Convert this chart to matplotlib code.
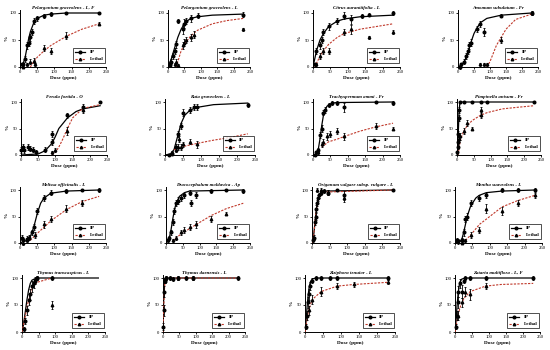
import matplotlib
matplotlib.use("Agg")
import matplotlib.pyplot as plt
from matplotlib.lines import Line2D

plt.rcParams['font.family'] = ['Liberation Serif', 'DejaVu Serif']
plt.rcParams['font.size'] = 3.6

titles = [
    "Pelargonium graveolens - L, F", "Pelargonium graveolens - L",
    "Citrus aurantiifolia - L", "Amomum subulatum - Fr",
    "Ferula foetida - O", "Ruta graveolens - L",
    "Trachyspermum ammi - Fr", "Pimpinella anisum - Fr",
    "Melissa officinalis - L", "Dracocephalum moldavica - Ap",
    "Origanum vulgare subsp. vulgare - L", "Mentha suaveolens - L",
    "Thymus transcaspicus - L", "Thymus daenensis - L",
    "Ziziphora tenuior - L", "Zataria multiflora - L, F",
]

# measured IP points
ip_x = [
    [5, 10, 15, 20, 25, 30, 35, 40, 50, 70, 90, 135, 230],
    [5, 10, 15, 20, 25, 30, 45, 50, 55, 70, 90, 230],
    [5, 10, 20, 25, 30, 45, 70, 90, 110, 140, 160, 230],
    [5, 10, 20, 25, 30, 35, 40, 60, 70, 80, 135, 230],
    [0, 5, 10, 20, 25, 35, 45, 70, 90, 90, 135, 180, 230],
    [10, 20, 30, 35, 45, 50, 70, 80, 90, 230],
    [5, 10, 15, 20, 25, 30, 35, 45, 55, 70, 90, 180, 230],
    [1, 2, 3, 4, 5, 7, 10, 20, 45, 70, 90, 230],
    [5, 10, 20, 25, 35, 40, 50, 70, 90, 135, 180, 230],
    [5, 10, 15, 20, 25, 30, 35, 45, 55, 70, 75, 90, 135, 180, 230],
    [2, 5, 8, 10, 12, 15, 18, 20, 25, 35, 45, 70, 90, 230],
    [5, 10, 20, 25, 30, 35, 45, 70, 90, 135, 180, 230],
    [5, 10, 15, 20, 25, 30, 35, 40, 45, 90],
    [1, 2, 3, 5, 10, 20, 30, 45, 70, 90, 230],
    [2, 5, 8, 10, 15, 20, 30, 45, 70, 90, 230],
    [2, 5, 8, 10, 15, 20, 25, 30, 45, 90, 230],
]
ip_y = [
    [5, 5, 15, 40, 45, 55, 65, 85, 90, 95, 98, 100, 100],
    [3, 10, 20, 30, 42, 85, 70, 80, 85, 90, 95, 97],
    [5, 30, 40, 50, 65, 75, 85, 95, 88, 95, 97, 100],
    [0, 5, 10, 20, 30, 40, 45, 70, 80, 65, 95, 100],
    [10, 15, 10, 15, 12, 10, 5, 10, 25, 40, 75, 90, 100],
    [0, 2, 15, 40, 55, 80, 85, 90, 90, 95],
    [0, 5, 10, 38, 50, 80, 85, 95, 98, 98, 90, 100, 98],
    [5, 15, 25, 40, 70, 85, 100, 100, 100, 100, 100, 100],
    [10, 5, 8, 10, 20, 30, 60, 85, 95, 98, 100, 100],
    [5, 10, 20, 40, 60, 75, 80, 85, 90, 95, 75, 90, 98, 100, 98],
    [5, 10, 40, 50, 65, 75, 85, 90, 95, 98, 95, 100, 90, 100],
    [5, 3, 5, 20, 45, 50, 75, 85, 90, 100, 100, 100],
    [5, 20, 40, 60, 70, 85, 90, 95, 100, 100],
    [10, 40, 75, 95, 100, 100, 98, 100, 100, 100, 100],
    [10, 30, 55, 70, 85, 95, 100, 100, 100, 100, 100],
    [10, 30, 55, 75, 90, 75, 95, 100, 100, 100, 100],
]
ip_err = [
    [3, 3, 5, 6, 6, 6, 6, 6, 5, 4, 3, 2, 2],
    [3, 4, 5, 6, 6, 4, 8, 8, 6, 6, 5, 4],
    [3, 6, 6, 6, 6, 6, 6, 6, 8, 4, 3, 3],
    [3, 3, 4, 5, 6, 6, 6, 6, 6, 8, 3, 3],
    [6, 6, 6, 5, 5, 5, 4, 5, 6, 6, 5, 6, 2],
    [2, 2, 5, 6, 6, 6, 6, 6, 6, 4],
    [2, 3, 4, 6, 6, 5, 5, 4, 3, 3, 8, 2, 4],
    [3, 4, 5, 6, 6, 6, 2, 2, 2, 2, 2, 2],
    [5, 5, 5, 5, 5, 6, 6, 5, 5, 3, 2, 4],
    [3, 4, 5, 6, 6, 6, 6, 6, 5, 5, 6, 6, 3, 2, 4],
    [4, 5, 6, 6, 6, 6, 6, 5, 5, 4, 5, 2, 8, 2],
    [4, 4, 4, 6, 6, 6, 6, 6, 5, 3, 3, 3],
    [4, 6, 8, 10, 10, 10, 8, 6, 4, 4],
    [6, 10, 10, 5, 3, 3, 4, 3, 3, 3, 3],
    [5, 8, 10, 10, 8, 5, 3, 3, 3, 3, 3],
    [5, 8, 10, 10, 8, 12, 5, 3, 3, 3, 3],
]

# measured lethality points
le_x = [
    [10, 20, 30, 40, 45, 70, 90, 135, 230],
    [20, 25, 30, 45, 50, 55, 70, 80, 230],
    [10, 20, 30, 45, 90, 110, 160, 230],
    [70, 80, 90, 135, 230],
    [90, 100, 135, 180],
    [20, 30, 35, 40, 45, 50, 70, 90],
    [15, 25, 30, 40, 50, 70, 90, 180, 230],
    [5, 10, 20, 30, 45, 70, 70],
    [10, 20, 45, 70, 90, 135, 180],
    [20, 30, 45, 55, 70, 90, 135, 180],
    [15, 25, 45, 90],
    [20, 30, 45, 70, 90, 135, 180, 230],
    [45, 90],
    [5, 10, 45, 90],
    [10, 20, 45, 90, 135, 230],
    [10, 20, 30, 45, 90],
]
le_y = [
    [0, 5, 10, 12, 5, 35, 30, 58, 80],
    [5, 10, 3, 40, 45, 50, 55, 60, 70],
    [5, 20, 30, 30, 65, 70, 55, 65],
    [5, 5, 5, 50, 100],
    [5, 10, 45, 85],
    [5, 10, 15, 30, 15, 20, 25, 20],
    [5, 20, 25, 35, 40, 45, 35, 55, 50],
    [30, 35, 45, 60, 50, 75, 85],
    [0, 5, 15, 35, 45, 65, 75],
    [5, 10, 20, 25, 30, 35, 45, 55],
    [100, 100, 95, 85],
    [0, 5, 15, 25, 65, 60, 75, 90],
    [100, 50],
    [95, 100, 100, 100],
    [40, 60, 75, 85, 88, 92],
    [30, 55, 75, 70, 85],
]
le_err = [
    [2, 3, 4, 4, 3, 5, 6, 6, 3],
    [3, 4, 3, 6, 6, 6, 6, 6, 3],
    [3, 6, 6, 6, 6, 8, 3, 3],
    [3, 3, 3, 6, 3],
    [3, 4, 8, 6],
    [3, 4, 6, 6, 6, 5, 5, 6],
    [3, 5, 6, 6, 6, 6, 6, 5, 3],
    [6, 6, 6, 6, 3, 6, 6],
    [3, 4, 5, 6, 6, 6, 6],
    [3, 4, 5, 6, 6, 6, 6, 3],
    [3, 3, 5, 8],
    [2, 3, 5, 6, 8, 8, 6, 5],
    [3, 8],
    [5, 3, 3, 3],
    [8, 8, 8, 6, 5, 4],
    [8, 8, 8, 10, 6],
]

# fitted dose-response curves
ip_fx = [
    [0, 10, 15, 20, 25, 30, 40, 50, 70, 90, 135, 230],
    [0, 10, 20, 30, 40, 50, 60, 70, 90, 135, 230],
    [0, 5, 10, 20, 30, 45, 70, 90, 135, 230],
    [0, 10, 20, 30, 40, 50, 60, 70, 90, 135, 230],
    [0, 50, 70, 90, 100, 110, 135, 160, 180, 230],
    [0, 15, 25, 35, 45, 55, 70, 90, 135, 230],
    [0, 10, 15, 20, 25, 30, 40, 55, 70, 230],
    [0, 2, 4, 6, 8, 10, 230],
    [0, 20, 30, 40, 50, 60, 70, 90, 135, 230],
    [0, 5, 10, 15, 20, 25, 30, 40, 55, 70, 230],
    [0, 4, 8, 12, 16, 20, 25, 35, 230],
    [0, 15, 20, 25, 30, 35, 45, 60, 70, 90, 135, 230],
    [0, 5, 10, 15, 20, 25, 30, 40, 50, 230],
    [0, 1, 2, 3, 4, 5, 7, 230],
    [0, 3, 6, 9, 12, 15, 20, 30, 230],
    [0, 3, 6, 9, 12, 15, 20, 30, 230],
]
ip_fy = [
    [0, 8, 18, 35, 52, 65, 82, 90, 96, 98, 100, 100],
    [0, 15, 35, 55, 70, 80, 86, 90, 93, 96, 98],
    [0, 15, 30, 50, 62, 75, 85, 89, 93, 96],
    [0, 3, 10, 25, 45, 62, 73, 82, 90, 96, 100],
    [0, 2, 8, 22, 35, 50, 70, 82, 87, 93],
    [0, 2, 10, 35, 60, 75, 85, 90, 95, 98],
    [0, 2, 10, 30, 55, 75, 92, 98, 99, 100],
    [0, 15, 45, 80, 95, 100, 100],
    [0, 5, 12, 30, 55, 75, 85, 94, 98, 100],
    [0, 3, 10, 25, 45, 62, 75, 88, 95, 98, 100],
    [0, 10, 35, 62, 80, 90, 95, 98, 100],
    [0, 3, 8, 20, 35, 50, 70, 85, 90, 95, 98, 100],
    [0, 15, 38, 60, 78, 90, 96, 99, 100, 100],
    [0, 30, 62, 82, 92, 97, 100, 100],
    [0, 20, 48, 70, 85, 93, 98, 100, 100],
    [0, 20, 48, 70, 85, 93, 98, 100, 100],
]
le_fx = [
    [30, 40, 50, 70, 90, 135, 180, 230],
    [25, 40, 50, 70, 90, 135, 180, 230],
    [5, 20, 30, 45, 70, 90, 135, 230],
    [90, 100, 110, 120, 135, 150, 180, 230],
    [90, 100, 110, 120, 135, 150, 180, 230],
    [25, 50, 90, 135, 180, 230],
    [25, 45, 70, 90, 135, 180, 230],
    [3, 10, 20, 30, 45, 70, 90, 135, 180, 230],
    [30, 50, 70, 90, 135, 180, 230],
    [20, 45, 70, 90, 135, 180, 230],
    [0, 5, 10, 15, 20, 30, 230],
    [30, 45, 70, 90, 135, 180, 230],
    [0, 10, 20, 30, 45, 90],
    [0, 2, 4, 6, 10, 230],
    [0, 10, 20, 45, 90, 135, 230],
    [0, 10, 20, 30, 45, 90, 135, 230],
]
le_fy = [
    [0, 10, 18, 30, 40, 57, 70, 80],
    [0, 30, 42, 58, 68, 80, 86, 90],
    [0, 20, 30, 42, 55, 62, 70, 80],
    [0, 10, 25, 40, 55, 70, 88, 98],
    [0, 5, 15, 28, 50, 70, 88, 95],
    [10, 16, 22, 28, 33, 40],
    [15, 25, 30, 35, 45, 53, 60],
    [0, 28, 45, 55, 65, 75, 80, 87, 90, 93],
    [5, 18, 30, 42, 63, 78, 88],
    [5, 17, 27, 35, 52, 65, 75],
    [0, 15, 50, 75, 88, 96, 100],
    [5, 15, 35, 45, 68, 80, 90],
    [0, 30, 60, 80, 92, 100],
    [0, 40, 75, 92, 100, 100],
    [0, 40, 60, 75, 85, 88, 92],
    [0, 35, 55, 65, 75, 85, 88, 90],
]

# axes placement in pixels: (x of dose 0, x of dose 250)
col_px = [
    [(20, 106), (168, 250), (313, 400), (458, 538)],
    [(21, 107), (165, 255), (313, 400), (457, 541)],
    [(20, 106), (166, 250), (312, 400), (455, 542)],
    [(22, 105), (163, 245), (305, 395), (455, 540)],
]
row_px = [(67, 13), (155, 102), (243, 190), (332, 278)]

W, H = 550, 350
fig = plt.figure(figsize=(5.5, 3.5), dpi=100)
red = '#c0392b'

for i in range(16):
    r, c = divmod(i, 4)
    x0, x1 = col_px[r][c]
    y0, y100 = row_px[r]
    h = (y0 - y100) * 1.05
    ax = fig.add_axes([x0 / W, 1 - y0 / H, (x1 - x0) / W, h / H])
    ax.plot(ip_fx[i], ip_fy[i], color='black', lw=0.9, zorder=3)
    ax.plot(le_fx[i], le_fy[i], color=red, lw=0.8, ls=(0, (2, 1.2)), zorder=3)
    ax.errorbar(ip_x[i], ip_y[i], yerr=ip_err[i], fmt='o', color='black',
                ms=1.9, elinewidth=0.6, capsize=1.0, capthick=0.6, zorder=4, clip_on=False)
    ax.errorbar(le_x[i], le_y[i], yerr=le_err[i], fmt='^', color='black',
                ms=1.8, elinewidth=0.6, capsize=1.0, capthick=0.6, zorder=4, clip_on=False)
    ax.set_xlim(0, 250)
    ax.set_ylim(0, 105)
    ax.set_xticks([0, 50, 100, 150, 200, 250])
    ax.set_yticks([0, 50, 100])
    ax.spines['top'].set_visible(False)
    ax.spines['right'].set_visible(False)
    for s in ('left', 'bottom'):
        ax.spines[s].set_linewidth(0.7)
    ax.tick_params(length=1.5, width=0.6, pad=1, labelsize=3.4)
    ax.set_xlabel("Dose (ppm)", fontsize=3.8, fontweight='bold', labelpad=1)
    ax.set_ylabel("%", fontsize=3.8, fontweight='bold', labelpad=1)
    ax.set_title(titles[i], fontsize=3.5, fontweight='bold', fontstyle='italic', pad=1)
    handles = [
        Line2D([], [], color='black', lw=0.9, marker='o', ms=1.9),
        Line2D([], [], color=red, lw=0.8, ls=(0, (2, 1.2)), marker='^', ms=1.8,
               markerfacecolor='black', markeredgecolor='black'),
    ]
    leg = ax.legend(handles, ['IP', 'Lethal'], loc='lower right',
                    bbox_to_anchor=(1.02, 0.02), fontsize=3.6, frameon=True,
                    fancybox=False, handlelength=2.0, borderpad=0.4,
                    labelspacing=0.5, handletextpad=0.8)
    leg.get_frame().set_edgecolor('black')
    leg.get_frame().set_linewidth(0.6)
    for t in leg.get_texts():
        t.set_fontweight('bold')

fig.savefig("out.png", dpi=100)
